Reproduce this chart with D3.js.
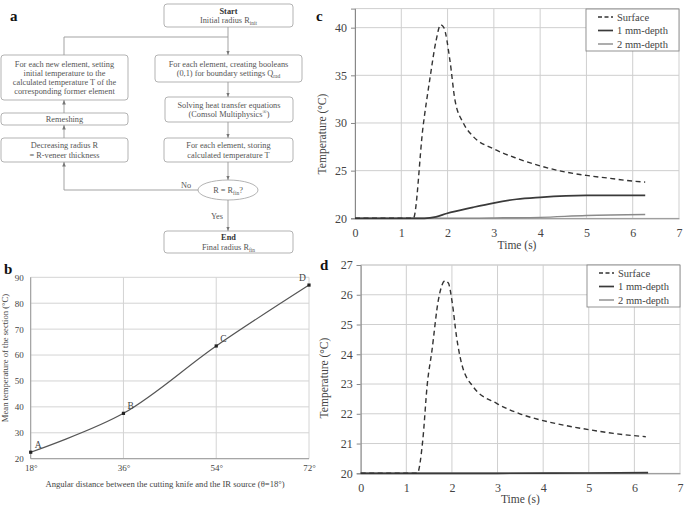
<!DOCTYPE html>
<html>
<head>
<meta charset="utf-8">
<script src="https://cdn.jsdelivr.net/npm/d3@7"></script>
<style>
body { margin:0; background:#fff; }
svg { display:block; font-family:"Liberation Serif","Times New Roman",serif; }
</style>
</head>
<body>
<div id="fig"></div>
<script>
// ---- panel b : mean temperature vs angular distance
var angles = [18, 36, 54, 72];
var meanTemp = [22.5, 37.5, 63.5, 87];
var pointNames = ["A", "B", "C", "D"];
var bYTicks = [20, 30, 40, 50, 60, 70, 80, 90];

// ---- panel c : temperature vs time, [time (s), temperature (°C)]
var cSurface = [[0,20],[1.26,20],[1.47,29.6],[1.62,34.7],[1.75,38.6],[1.85,40.3],[1.92,40.0],
  [2.05,36.6],[2.16,32.4],[2.34,30],[2.55,28.6],[2.99,27.3],[3.49,26.3],[4.0,25.5],
  [4.5,24.9],[5.0,24.5],[5.5,24.2],[6.0,23.9],[6.27,23.8]];
var c1mm = [[0,20],[1.5,20],[1.75,20.15],[1.98,20.5],[2.55,21.15],[2.99,21.6],[3.49,22.0],
  [4.0,22.2],[5.0,22.4],[6.27,22.4]];
var c2mm = [[0,20],[2.5,20],[3.2,20.05],[4.0,20.1],[5.0,20.3],[6.27,20.4]];
var cYTicks = [20, 25, 30, 35, 40];

// ---- panel d
var dSurface = [[0,20],[1.24,20],[1.36,21.1],[1.46,23.0],[1.56,24.1],[1.70,25.8],[1.85,26.47],
  [1.92,26.4],[2.01,25.7],[2.10,24.6],[2.21,23.7],[2.47,22.9],[2.98,22.35],[3.49,22.0],
  [4.0,21.77],[4.51,21.6],[5.03,21.46],[5.54,21.34],[6.25,21.23]];
var d1mm = [[0,20],[3.0,20],[5.0,20.01],[6.3,20.02]];
var d2mm = [[0,20],[6.3,20]];
var dYTicks = [20, 21, 22, 23, 24, 25, 26, 27];

var timeTicks = [0, 1, 2, 3, 4, 5, 6, 7];
var seriesNames = ["Surface", "1 mm-depth", "2 mm-depth"];

var svg = d3.select("#fig").append("svg")
  .attr("width", 687).attr("height", 505);
svg.append("rect").attr("width", 687).attr("height", 505).attr("fill", "#fff");

var defs = svg.append("defs");
defs.append("marker")
  .attr("id", "arr")
  .attr("viewBox", "0 0 10 10")
  .attr("refX", 10).attr("refY", 5)
  .attr("markerWidth", 5).attr("markerHeight", 5)
  .attr("orient", "auto")
  .append("path").attr("d", "M0,1 L10,5 L0,9 z").attr("fill", "#777");

// panel letters
function letter(t, x, y) {
  svg.append("text").attr("x", x).attr("y", y).text(t)
    .attr("font-weight", "bold").attr("font-size", 15).attr("fill", "#111");
}
letter("a", 10, 21);
letter("b", 4, 274);
letter("c", 316, 21);
letter("d", 320, 270);

// ---- panel a : flowchart
var fa = svg.append("g").attr("font-size", 8.3).attr("fill", "#555")
  .attr("font-family", "Liberation Serif, serif");

var boxes = [
  {x:164, y:4, w:129, h:23, lines:[[["Start","b"]],[["Initial radius R"],["init","sub"]]]},
  {x:1, y:55, w:127, h:45, lines:[[["For each new element, setting"]],[["initial temperature to the"]],
    [["calculated temperature T of the"]],[["corresponding former element"]]]},
  {x:155, y:55, w:147, h:27, lines:[[["For each element, creating booleans"]],
    [["(0,1) for boundary settings Q"],["rad","sub"]]]},
  {x:165, y:97, w:128, h:25, lines:[[["Solving heat transfer equations"]],
    [["(Comsol Multiphysics"],["®","sup"],[")"]]]},
  {x:1, y:113, w:127, h:12, lines:[[["Remeshing"]]]},
  {x:1, y:138, w:127, h:24, lines:[[["Decreasing radius R"]],[["= R-veneer thickness"]]]},
  {x:164, y:138, w:129, h:24, lines:[[["For each element, storing"]],[["calculated temperature T"]]]},
  {x:164, y:231, w:129, h:22, lines:[[["End","b"]],[["Final radius R"],["fin","sub"]]]}
];

function writeLines(g, cx, cy, lines) {
  var lh = 9.2;
  var y0 = cy - (lines.length - 1) * lh / 2 + 3;
  lines.forEach(function(line, i) {
    var t = g.append("text").attr("x", cx).attr("y", y0 + i * lh).attr("text-anchor", "middle");
    var prev = null;
    line.forEach(function(seg) {
      var ts = t.append("tspan").text(seg[0]);
      if (seg[1] == "b") ts.attr("font-weight", "bold").attr("fill", "#333");
      if (seg[1] == "sub") ts.attr("font-size", 5.5).attr("dy", 2);
      if (seg[1] == "sup") ts.attr("font-size", 5.5).attr("dy", -3);
      // back to the baseline after a sub/superscript
      if (!seg[1] && prev == "sub") ts.attr("dy", -2);
      if (!seg[1] && prev == "sup") ts.attr("dy", 3);
      prev = seg[1] || null;
    });
  });
}

boxes.forEach(function(b) {
  fa.append("rect").attr("x", b.x).attr("y", b.y).attr("width", b.w).attr("height", b.h)
    .attr("rx", 3).attr("fill", "#fff").attr("stroke", "#aaa").attr("stroke-width", 0.9);
  writeLines(fa, b.x + b.w / 2, b.y + b.h / 2, b.lines);
});

fa.append("ellipse").attr("cx", 228).attr("cy", 190).attr("rx", 30).attr("ry", 10)
  .attr("fill", "#fff").attr("stroke", "#aaa").attr("stroke-width", 0.9);
writeLines(fa, 228, 190, [[["R = R"],["fin","sub"],["?"]]]);

var links = [
  [[228,27],[228,55]],
  [[64,55],[64,37],[228,37]],
  [[228,82],[228,97]],
  [[228,122],[228,138]],
  [[228,162],[228,180]],
  [[228,200],[228,231]],
  [[198,190],[64,190],[64,162]],
  [[64,138],[64,125]],
  [[64,113],[64,100]]
];
links.forEach(function(p, i) {
  fa.append("path").attr("d", d3.line()(p)).attr("fill", "none")
    .attr("stroke", "#999").attr("stroke-width", 0.9)
    .attr("marker-end", i == 1 ? null : "url(#arr)");
});
fa.append("text").attr("x", 181).attr("y", 188).text("No");
fa.append("text").attr("x", 223).attr("y", 219).attr("text-anchor", "end").text("Yes");

// ---- panel b
var gb = svg.append("g");
var xb = d3.scaleLinear().domain([18, 72]).range([30.7, 309]);
var yb = d3.scaleLinear().domain([20, 90]).range([458.7, 277.3]);

gb.selectAll(".hg").data(bYTicks).enter().append("line")
  .attr("x1", xb(18)).attr("x2", xb(72))
  .attr("y1", function(d) { return yb(d); }).attr("y2", function(d) { return yb(d); })
  .attr("stroke", "#d4d4d4").attr("stroke-width", 1);
gb.selectAll(".vg").data(angles).enter().append("line")
  .attr("x1", function(d) { return xb(d); }).attr("x2", function(d) { return xb(d); })
  .attr("y1", yb(20)).attr("y2", yb(90))
  .attr("stroke", "#d4d4d4").attr("stroke-width", 1);
gb.append("line").attr("x1", xb(18)).attr("x2", xb(72)).attr("y1", yb(20)).attr("y2", yb(20))
  .attr("stroke", "#999");
gb.append("line").attr("x1", xb(18)).attr("x2", xb(18)).attr("y1", yb(20)).attr("y2", yb(90))
  .attr("stroke", "#999");

var byAxis = gb.append("g").attr("transform", "translate(" + xb(18) + ",0)")
  .call(d3.axisLeft(yb).tickValues(bYTicks).tickSize(0).tickPadding(7));
var bxAxis = gb.append("g").attr("transform", "translate(0," + yb(20) + ")")
  .call(d3.axisBottom(xb).tickValues(angles).tickSize(0).tickPadding(6)
    .tickFormat(function(d) { return d + "°"; }));
[byAxis, bxAxis].forEach(function(a) {
  a.select(".domain").remove();
  a.selectAll("text").attr("font-family", "Liberation Serif, serif").attr("font-size", 9).attr("fill", "#444");
});

var bPts = angles.map(function(a, i) { return [a, meanTemp[i]]; });
gb.append("path").datum(bPts)
  .attr("d", d3.line().x(function(d) { return xb(d[0]); }).y(function(d) { return yb(d[1]); })
    .curve(d3.curveCatmullRom.alpha(0.5)))
  .attr("fill", "none").attr("stroke", "#555").attr("stroke-width", 1.2);
gb.selectAll(".pt").data(bPts).enter().append("rect")
  .attr("x", function(d) { return xb(d[0]) - 1.6; }).attr("y", function(d) { return yb(d[1]) - 1.6; })
  .attr("width", 3.2).attr("height", 3.2).attr("fill", "#222");
gb.selectAll(".lbl").data(bPts).enter().append("text")
  .attr("x", function(d, i) { return xb(d[0]) + (i == 3 ? -10 : 4); })
  .attr("y", function(d) { return yb(d[1]) - 4; })
  .text(function(d, i) { return pointNames[i]; })
  .attr("font-size", 9.5).attr("fill", "#444");

gb.append("text").attr("x", 165).attr("y", 487).attr("text-anchor", "middle")
  .attr("font-size", 8.6).attr("fill", "#444")
  .text("Angular distance between the cutting knife and the IR source (θ=18°)");
gb.append("text").attr("transform", "translate(8,358) rotate(-90)").attr("text-anchor", "middle")
  .attr("font-size", 8.6).attr("fill", "#444")
  .text("Mean temperature of the section (°C)");

// ---- panels c and d
function timeChart(o) {
  var g = svg.append("g");
  var x = d3.scaleLinear().domain([0, 7]).range(o.xr);
  var y = d3.scaleLinear().domain(o.yd).range(o.yr);

  g.selectAll(".vg").data(timeTicks).enter().append("line")
    .attr("x1", function(d) { return x(d); }).attr("x2", function(d) { return x(d); })
    .attr("y1", y(o.yd[0])).attr("y2", y(o.yd[1]))
    .attr("stroke", "#cfcfcf").attr("stroke-width", 1);
  g.selectAll(".hg").data(o.yTicks.concat([o.yd[1]])).enter().append("line")
    .attr("x1", x(0)).attr("x2", x(7))
    .attr("y1", function(d) { return y(d); }).attr("y2", function(d) { return y(d); })
    .attr("stroke", "#cfcfcf").attr("stroke-width", 1);

  var ya = g.append("g").attr("transform", "translate(" + x(0) + ",0)")
    .call(d3.axisLeft(y).tickValues(o.yTicks).tickSize(4).tickPadding(4).tickFormat(d3.format("d")));
  var xa = g.append("g").attr("transform", "translate(0," + y(o.yd[0]) + ")")
    .call(d3.axisBottom(x).tickValues(timeTicks).tickSize(0).tickPadding(10).tickFormat(d3.format("d")));
  [ya, xa].forEach(function(a) {
    a.select(".domain").attr("stroke", "#888");
    a.selectAll("line").attr("stroke", "#888");
    a.selectAll("text").attr("font-family", "Liberation Serif, serif").attr("font-size", 12).attr("fill", "#444");
  });

  g.append("text").attr("x", (o.xr[0] + o.xr[1]) / 2).attr("y", o.titleY).attr("text-anchor", "middle")
    .attr("font-size", 11.5).attr("fill", "#444").text("Time (s)");
  g.append("text").attr("transform", "translate(" + o.labX + "," + o.labY + ") rotate(-90)")
    .attr("text-anchor", "middle").attr("font-size", 11.5).attr("fill", "#444").text("Temperature (°C)");

  var line = d3.line().x(function(d) { return x(d[0]); }).y(function(d) { return y(d[1]); })
    .curve(d3.curveMonotoneX);
  var styles = [
    {c:"#333", w:1.4, dash:"5,3.5"},
    {c:"#3a3a3a", w:1.7, dash:null},
    {c:"#8a8a8a", w:1.4, dash:null}
  ];
  [o.s2, o.s1, o.s0].forEach(function(s, j) {
    var st = styles[2 - j];
    g.append("path").datum(s).attr("d", line).attr("fill", "none")
      .attr("stroke", st.c).attr("stroke-width", st.w).attr("stroke-dasharray", st.dash);
  });

  // legend
  var lg = g.append("g");
  lg.append("rect").attr("x", o.leg[0]).attr("y", o.leg[1]).attr("width", x(7) - o.leg[0])
    .attr("height", o.leg[2]).attr("fill", "#fff").attr("stroke", "#888").attr("stroke-width", 0.9);
  seriesNames.forEach(function(n, i) {
    var ly = o.leg[1] + 8 + i * 13.5;
    lg.append("line").attr("x1", o.leg[0] + 12).attr("x2", o.leg[0] + 27).attr("y1", ly).attr("y2", ly)
      .attr("stroke", styles[i].c).attr("stroke-width", styles[i].w)
      .attr("stroke-dasharray", styles[i].dash ? "4,2.5" : null);
    lg.append("text").attr("x", o.leg[0] + 31).attr("y", ly + 3.5).text(n)
      .attr("font-size", 10.5).attr("fill", "#444");
  });
}

timeChart({xr:[355, 679], yd:[20, 42], yr:[218.3, 8.6], yTicks:cYTicks,
  s0:cSurface, s1:c1mm, s2:c2mm, titleY:249, labX:326, labY:134, leg:[586, 9, 42]});
timeChart({xr:[360.7, 680], yd:[20, 27], yr:[473.3, 265], yTicks:dYTicks,
  s0:dSurface, s1:d1mm, s2:d2mm, titleY:503, labX:328, labY:378, leg:[587, 265, 42]});
</script>
</body>
</html>
